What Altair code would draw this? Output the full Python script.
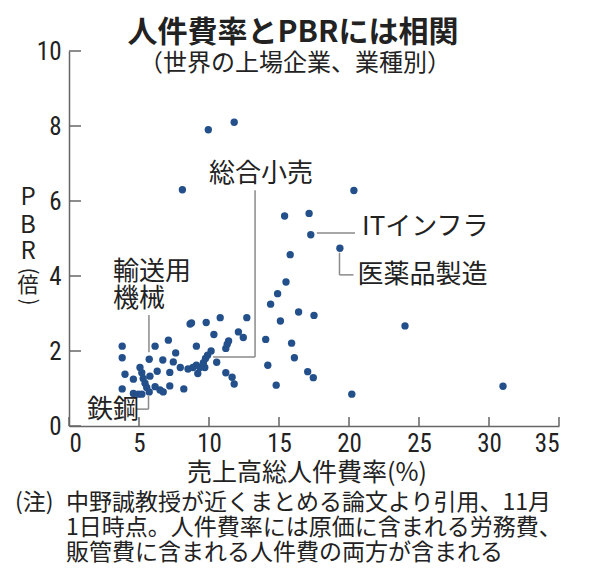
import altair as alt
import pandas as pd

# ---- data ----
rate = [3.8, 3.8, 3.8, 4.0, 4.6, 4.6, 4.95, 5.2, 5.07, 5.2, 5.3, 5.43, 5.55, 5.73,
        5.78, 5.73, 6.15, 6.15, 6.3, 6.5, 6.73, 6.7, 7.1, 7.2, 7.2, 7.45, 7.62, 7.95,
        8.2, 8.1, 8.5, 8.65, 8.75, 8.85, 9.1, 9.1, 9.2, 9.35, 9.6, 9.7, 9.75, 9.8,
        9.9, 9.95, 10.15, 10.35, 10.55, 10.8, 11.2, 11.3, 11.4, 11.2, 11.65, 11.8,
        11.8, 12.1, 12.45, 12.7,
        14.05, 14.2, 14.4, 14.8, 14.9, 15.1, 15.4, 15.5, 15.8, 15.9, 16.1, 16.4,
        17.05, 17.15, 17.27, 17.45, 17.5, 19.35, 20.2, 20.35, 24.0, 31.0]
pbr = [2.13, 1.82, 0.99, 1.38, 1.25, 0.87, 0.85, 0.85, 1.56, 1.42, 1.27, 1.14, 1.03, 0.91,
       1.33, 1.78, 2.13, 1.05, 1.46, 0.96, 0.91, 1.76, 2.29, 1.43, 1.07, 1.71, 1.95, 1.56,
       0.99, 6.3, 1.52, 2.72, 2.75, 1.56, 2.13, 1.62, 1.4, 1.56, 1.69, 1.56, 1.8, 2.76,
       1.89, 7.9, 2.0, 2.44, 1.7, 2.89, 2.07, 2.18, 2.27, 1.42, 1.3, 1.12,
       8.1, 2.51, 2.36, 2.89,
       2.31, 1.62, 3.25, 1.09, 3.53, 2.8, 5.6, 3.84, 4.57, 2.21, 1.82, 3.04,
       1.45, 5.67, 5.1, 1.29, 2.95, 4.74, 0.85, 6.28, 2.67, 1.06]

x_ticks = [0, 5, 10, 15, 20, 25, 30, 35]
y_ticks = [0, 2, 4, 6, 8, 10]

# annotation labels (data coordinates of the label's left/middle)
ann_text = ["総合小売", "輸送用", "機械", "鉄鋼", "ITインフラ", "医薬品製造"]
ann_x = [10.0, 3.14, 3.14, 1.29, 20.93, 20.6]
ann_y = [6.72, 4.11, 3.39, 0.43, 5.3, 4.03]

# leader line segments (data coordinates)
seg_x1 = [13.29, 10.29, 5.71, 4.79, 5.68, 17.7, 19.32, 19.32]
seg_x2 = [13.29, 13.29, 5.71, 5.68, 5.68, 20.43, 19.32, 20.32]
seg_y1 = [6.29, 1.84, 2.96, 0.45, 0.45, 5.15, 4.62, 4.03]
seg_y2 = [1.84, 1.84, 1.97, 0.45, 0.8, 5.15, 4.03, 4.03]

TITLE = "人件費率とPBRには相関"
SUBTITLE = "（世界の上場企業、業種別）"
XTITLE = "売上高総人件費率(%)"
NOTE_HEAD = "(注)"
NOTE = ["中野誠教授が近くまとめる論文より引用、11月",
        "1日時点。人件費率には原価に含まれる労務費、",
        "販管費に含まれる人件費の両方が含まれる"]

JP = "Noto Sans CJK JP"
NUM = "Liberation Sans Narrow, Arial Narrow, Roboto Condensed, Liberation Sans, sans-serif"
DOT = "#23508a"
AX = "#666666"
LEAD = "#8a8a8a"
TXT = "#222222"
W, H = 490, 375

xs = alt.Scale(domain=[0, 35], nice=False, zero=False)
ys = alt.Scale(domain=[0, 10], nice=False, zero=False)

xaxis = alt.Axis(values=x_ticks, ticks=False, tickSize=0, grid=False, title=None,
                 domainColor=AX, domainWidth=1.5, labelFont=NUM, labelFontSize=25,
                 labelColor=TXT, labelPadding=5)
yaxis = alt.Axis(values=y_ticks, ticks=False, tickSize=0, grid=False, title=None,
                 domainColor=AX, domainWidth=1.5, labelFont=NUM, labelFontSize=25,
                 labelColor=TXT, labelPadding=8)

pts = pd.DataFrame({"rate": rate, "pbr": pbr})

points = alt.Chart(pts).mark_circle(size=54, opacity=1, color=DOT).encode(
    x=alt.X("rate:Q", scale=xs, axis=xaxis),
    y=alt.Y("pbr:Q", scale=ys, axis=yaxis),
)

xt = alt.Chart(pd.DataFrame({"v": x_ticks})).mark_rule(color=AX, strokeWidth=1.5).encode(
    x=alt.X("v:Q", scale=xs, axis=xaxis), y=alt.value(H), y2=alt.value(H - 9))
yt = alt.Chart(pd.DataFrame({"v": y_ticks})).mark_rule(color=AX, strokeWidth=1.5).encode(
    y=alt.Y("v:Q", scale=ys, axis=yaxis), x=alt.value(0), x2=alt.value(12))

segs = alt.Chart(pd.DataFrame({"x1": seg_x1, "x2": seg_x2, "y1": seg_y1, "y2": seg_y2})).mark_rule(
    color=LEAD, strokeWidth=1.5).encode(
    x=alt.X("x1:Q", scale=xs, axis=xaxis), x2="x2:Q",
    y=alt.Y("y1:Q", scale=ys, axis=yaxis), y2="y2:Q")

anns = alt.Chart(pd.DataFrame({"t": ann_text, "x": ann_x, "y": ann_y})).mark_text(
    align="left", baseline="middle", font=JP, fontSize=26, color=TXT).encode(
    x=alt.X("x:Q", scale=xs, axis=xaxis), y=alt.Y("y:Q", scale=ys, axis=yaxis), text="t:N")


def txt(s, px, py, size, align="left", weight="normal", angle=0):
    return alt.Chart(pd.DataFrame({"t": [s]})).mark_text(
        align=align, baseline="middle", font=JP, fontSize=size, fontWeight=weight,
        angle=angle, color=TXT).encode(x=alt.value(px), y=alt.value(py), text="t:N")


layers = [segs, xt, yt, points, anns,
          txt(TITLE, 224, -18, 30, "center", "bold"),
          txt(SUBTITLE, 226, 13, 24, "center"),
          txt(XTITLE, 238, 422, 25, "center"),
          txt(NOTE_HEAD, -54, 452, 23),
          txt(NOTE[0], -3, 452, 23),
          txt(NOTE[1], -3, 477, 23),
          txt(NOTE[2], -3, 502, 23)]

for ch, py in zip(["P", "B", "R"], [147, 175, 201]):
    layers.append(txt(ch, -41, py, 24, "center"))
layers.append(txt("(", -41, 220, 21, "center", angle=90))
layers.append(txt("倍", -41, 235, 21, "center"))
layers.append(txt(")", -41, 251, 21, "center", angle=90))

chart = alt.layer(*layers).properties(
    width=W, height=H,
    padding={"left": 61, "top": 43, "right": 37, "bottom": 141},
    autosize=alt.AutoSizeParams(type="none"),
).configure_view(stroke=None)

chart.save("out.html", embed_options={"renderer": "svg", "actions": False})
